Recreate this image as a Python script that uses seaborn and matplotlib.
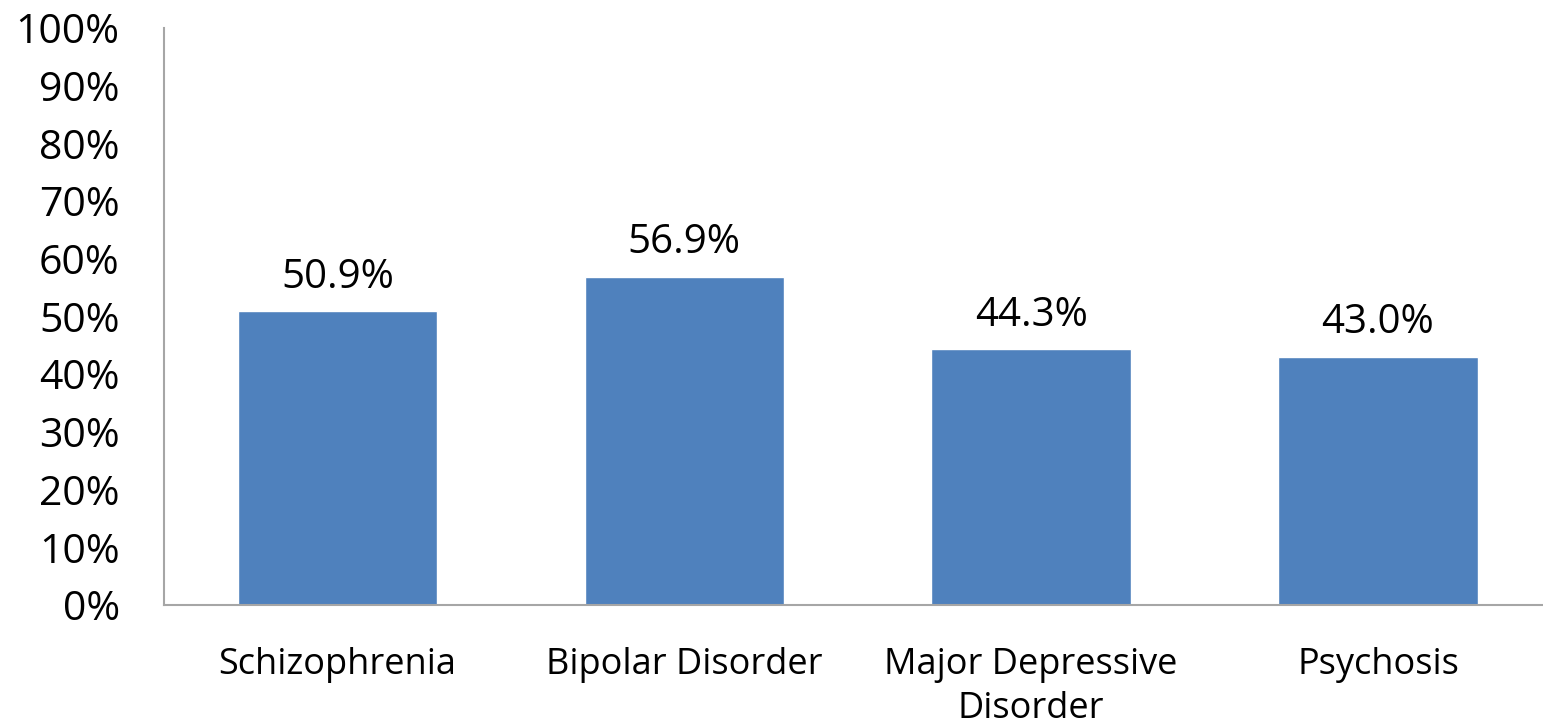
import pandas as pd
import seaborn as sns
import matplotlib.pyplot as plt
from matplotlib.ticker import FuncFormatter

# data
categories = ['Schizophrenia', 'Bipolar Disorder', 'Major Depressive\nDisorder', 'Psychosis']
values = [50.9, 56.9, 44.3, 43.0]
y_ticks = list(range(0, 101, 10))

df = pd.DataFrame({'condition': categories, 'pct': values})

sns.set_style('white')
plt.rcParams['font.family'] = ['Open Sans', 'DejaVu Sans']

fig = plt.figure(figsize=(15.43, 7.28), dpi=100)
ax = fig.add_axes([0.1064, 0.169, 0.899, 0.7925])

sns.barplot(data=df, x='condition', y='pct', color='#4F81BD', width=0.575,
            saturation=1, ax=ax)

ax.set_ylim(0, 100)
ax.set_yticks(y_ticks)
ax.yaxis.set_major_formatter(FuncFormatter(lambda v, p: f'{v:.0f}%'))
ax.set_xlabel('')
ax.set_ylabel('')
ax.tick_params(axis='y', length=0, pad=32, labelsize=29.5, labelcolor='black')
ax.tick_params(axis='x', length=0, pad=30, labelsize=26, labelcolor='black')
for lab in ax.get_xticklabels():
    lab.set_linespacing(1.32)

for s in ['top', 'right']:
    ax.spines[s].set_visible(False)
for s in ['left', 'bottom']:
    ax.spines[s].set_color('#A6A6A6')
    ax.spines[s].set_linewidth(1.5)
ax.spines['left'].set_bounds(0, 100)

for i, v in enumerate(values):
    ax.annotate(f'{v:.1f}%', xy=(i, v), xytext=(0, 17), textcoords='offset points',
                ha='center', va='baseline', fontsize=29, color='black')

fig.savefig('out.png', dpi=100)
